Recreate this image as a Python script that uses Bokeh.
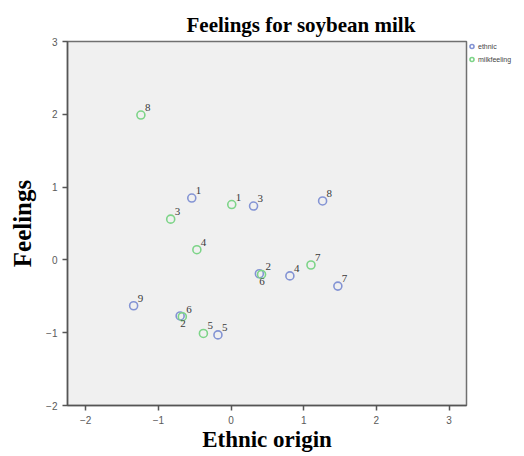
from bokeh.plotting import figure
from bokeh.models import ColumnDataSource, Legend, LegendItem, Range1d, FixedTicker, LabelSet
from bokeh.embed import file_html
from bokeh.resources import INLINE

# ---- data ----
ethnic_x = [-0.54, -0.70, 0.31, 0.81, -0.18, 0.39, 1.47, 1.26, -1.34]
ethnic_y = [0.85, -0.77, 0.74, -0.22, -1.03, -0.19, -0.36, 0.81, -0.63]
ethnic_lab = ["1", "2", "3", "4", "5", "6", "7", "8", "9"]
ethnic_pos = ["above", "below", "above", "above", "above", "below", "above", "above", "above"]

milk_x = [0.01, 0.42, -0.83, -0.47, -0.38, -0.67, 1.10, -1.24]
milk_y = [0.76, -0.20, 0.56, 0.14, -1.01, -0.78, -0.07, 1.99]
milk_lab = ["1", "2", "3", "4", "5", "6", "7", "8"]
milk_pos = ["above", "above", "above", "above", "above", "above", "above", "above"]

x_ticks = [-2, -1, 0, 1, 2, 3]
y_ticks = [-2, -1, 0, 1, 2, 3]

BLUE = "#8494d4"
GREEN = "#7dd488"

p = figure(frame_width=399, frame_height=364, output_backend="svg", toolbar_location=None,
           x_range=Range1d(-2.25, 3.24), y_range=Range1d(-2, 3),
           min_border_left=67, min_border_right=0, min_border_top=41, min_border_bottom=0)

p.background_fill_color = "#f0f0f0"
p.border_fill_color = "white"
p.outline_line_color = "#707070"
p.outline_line_width = 1.5
p.grid.visible = False

p.title.text = "Feelings for soybean milk"
p.title.text_font = "Liberation Serif"
p.title.text_font_size = "21px"
p.title.text_font_style = "bold"
p.title.text_color = "black"
p.title.align = "left"
p.title.offset = 119
p.title.standoff = 9

for ax in (p.xaxis[0], p.yaxis[0]):
    ax.axis_line_color = "#555555"
    ax.axis_line_width = 1.5
    ax.major_tick_line_color = "#555555"
    ax.major_tick_line_width = 1.5
    ax.major_tick_out = 5
    ax.major_tick_in = 0
    ax.minor_tick_line_color = None
    ax.major_label_text_font = "Liberation Sans"
    ax.major_label_text_font_size = "10px"
    ax.major_label_text_color = "#5a5a5a"
    ax.major_label_standoff = 5
    ax.axis_label_text_font = "Liberation Serif"
    ax.axis_label_text_font_size = "25px"
    ax.axis_label_text_font_style = "bold"
    ax.axis_label_text_color = "black"

p.xaxis.ticker = FixedTicker(ticks=x_ticks)
p.yaxis.ticker = FixedTicker(ticks=y_ticks)
p.xaxis.axis_label = "Ethnic origin"
p.yaxis.axis_label = "Feelings"
p.xaxis.axis_label_text_font_size = "23px"
p.xaxis.axis_label_standoff = 0
p.yaxis.axis_label_standoff = 7


def label_offsets(pos):
    xo = [4 if s == "above" else 0 for s in pos]
    yo = [4 if s == "above" else -11 for s in pos]
    return xo, yo


ex_o, ey_o = label_offsets(ethnic_pos)
mx_o, my_o = label_offsets(milk_pos)
src_e = ColumnDataSource(dict(x=ethnic_x, y=ethnic_y, t=ethnic_lab, xo=ex_o, yo=ey_o))
src_m = ColumnDataSource(dict(x=milk_x, y=milk_y, t=milk_lab, xo=mx_o, yo=my_o))

r_e = p.scatter("x", "y", source=src_e, size=8, fill_color=None, line_color=BLUE, line_width=1.6)
r_m = p.scatter("x", "y", source=src_m, size=8, fill_color=None, line_color=GREEN, line_width=1.6)

for src in (src_e, src_m):
    p.add_layout(LabelSet(x="x", y="y", text="t", source=src, x_offset="xo", y_offset="yo",
                          text_font="Liberation Sans", text_font_size="11px", text_color="#3a3a3a",
                          text_baseline="bottom"))

legend = Legend(items=[LegendItem(label="ethnic", renderers=[r_e]),
                       LegendItem(label="milkfeeling", renderers=[r_m])],
                location="top_left", background_fill_alpha=0, border_line_color=None,
                label_text_font="Liberation Sans", label_text_font_size="7px",
                glyph_width=11, glyph_height=10, label_standoff=1, spacing=3,
                padding=2, margin=0, label_height=10)
p.add_layout(legend, "right")

open("out.html", "w").write(file_html(p, INLINE))
